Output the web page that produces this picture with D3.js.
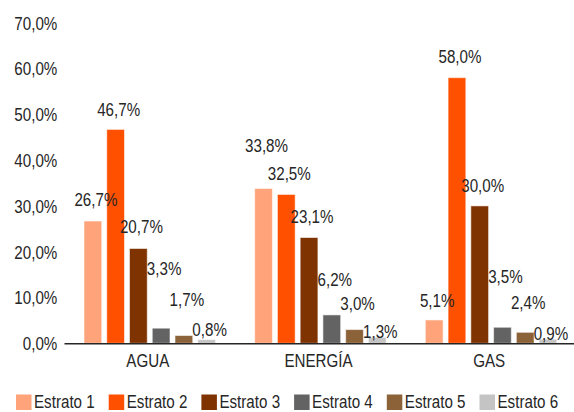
<!DOCTYPE html>
<html>
<head>
<meta charset="utf-8">
<script src="https://cdn.jsdelivr.net/npm/d3@7"></script>
<style>
  html, body { margin: 0; padding: 0; background: #fff; }
  svg { display: block; }
  text { font-family: "Liberation Sans", Arial, sans-serif; fill: #262626; }
</style>
</head>
<body>
<svg id="chart" width="574" height="412"></svg>
<script>
// Servicios públicos por estrato (% de hogares)
const categories = ["AGUA", "ENERGÍA", "GAS"];
const series = ["Estrato 1", "Estrato 2", "Estrato 3", "Estrato 4", "Estrato 5", "Estrato 6"];
const estrato1 = [26.7, 33.8, 5.1];
const estrato2 = [46.7, 32.5, 58.0];
const estrato3 = [20.7, 23.1, 30.0];
const estrato4 = [3.3, 6.2, 3.5];
const estrato5 = [1.7, 3.0, 2.4];
const estrato6 = [0.8, 1.3, 0.9];
const yTicks = [0, 10, 20, 30, 40, 50, 60, 70];
const colors = ["#FFA47A", "#FF5000", "#7F3300", "#636363", "#8C6239", "#C4C4C4"];

// Distance (px) from each bar top to the centre of its value label
const labelLift = [
  [21, 43, 19],
  [20, 21, 21],
  [22, 21, 20],
  [60, 35, 51],
  [36, 26, 30],
  [10, 6, 6]
];

const values = [estrato1, estrato2, estrato3, estrato4, estrato5, estrato6];

const svg = d3.select("#chart");
const fontSize = 18.5;
const narrow = 0.82; // condensed face: regular glyphs squeezed horizontally

// Move a text's x/y into a transform so it can be squeezed about its anchor
function condense(sel) {
  sel.each(function () {
    const t = d3.select(this);
    const x = +t.attr("x") || 0, yy = +t.attr("y") || 0;
    t.attr("x", null).attr("y", null)
     .attr("transform", `translate(${x},${yy}) scale(${narrow},1)`);
  });
}

const x0 = d3.scaleBand().domain(categories).range([64, 576]).padding(0);
const x1 = d3.scaleBand().domain(series).range([20, 151.5]).paddingInner(0.22).paddingOuter(0);
const y = d3.scaleLinear().domain([0, 70]).range([343.3, 22.7]);

const loc = d3.formatLocale({ decimal: ",", thousands: ".", grouping: [3], currency: ["", ""] });
const fmt = v => loc.format(".1f")(v) + "%";

// Y axis labels (no axis line, no gridlines)
const yAxis = d3.axisLeft(y).tickValues(yTicks).tickSize(0).tickPadding(0).tickFormat(fmt);
const yg = svg.append("g").attr("transform", "translate(57.3,0)").call(yAxis);
yg.select(".domain").remove();
yg.selectAll("text").attr("font-size", fontSize).attr("font-family", null).attr("fill", "#262626")
  .attr("dy", "0.35em").attr("x", 0).call(condense);

// Bars
const groups = svg.append("g").selectAll("g")
  .data(categories)
  .join("g")
  .attr("transform", d => `translate(${x0(d)},0)`);

groups.selectAll("rect")
  .data((c, ci) => series.map((s, si) => ({ s, si, ci, v: values[si][ci] })))
  .join("rect")
  .attr("x", d => x1(d.s))
  .attr("y", d => y(d.v))
  .attr("width", x1.bandwidth())
  .attr("height", d => y(0) - y(d.v))
  .attr("fill", d => colors[d.si])
  .attr("stroke", "#fff")
  .attr("stroke-opacity", 0.55)
  .attr("stroke-width", 1);

// Value labels
groups.selectAll("text.val")
  .data((c, ci) => series.map((s, si) => ({ s, si, ci, v: values[si][ci] })))
  .join("text")
  .attr("class", "val")
  .attr("x", d => x1(d.s) + x1.bandwidth() / 2 + 3)
  .attr("y", d => y(d.v) - labelLift[d.si][d.ci])
  .attr("dy", "0.35em")
  .attr("text-anchor", "middle")
  .attr("font-size", fontSize)
  .text(d => fmt(d.v))
  .call(condense);

// X axis
const xAxis = d3.axisBottom(x0).tickSize(0).tickPadding(0);
const xg = svg.append("g").attr("transform", `translate(0,${y(0)})`).call(xAxis);
xg.select(".domain").attr("stroke", "#262626").attr("stroke-width", 1.6);
xg.selectAll("text").attr("font-size", fontSize).attr("font-family", null).attr("fill", "#262626")
  .attr("dy", null).attr("y", 23.5).attr("x", -1.5).call(condense);

// Legend
const legend = svg.append("g").attr("transform", "translate(16,394.5)");
const item = legend.selectAll("g").data(series).join("g")
  .attr("transform", (d, i) => `translate(${i * 92.7},0)`);
item.append("rect").attr("width", 15.5).attr("height", 15.5).attr("fill", (d, i) => colors[i]);
item.append("text").attr("x", 18).attr("y", 13.5).attr("font-size", fontSize).text(d => d).call(condense);
</script>
</body>
</html>
